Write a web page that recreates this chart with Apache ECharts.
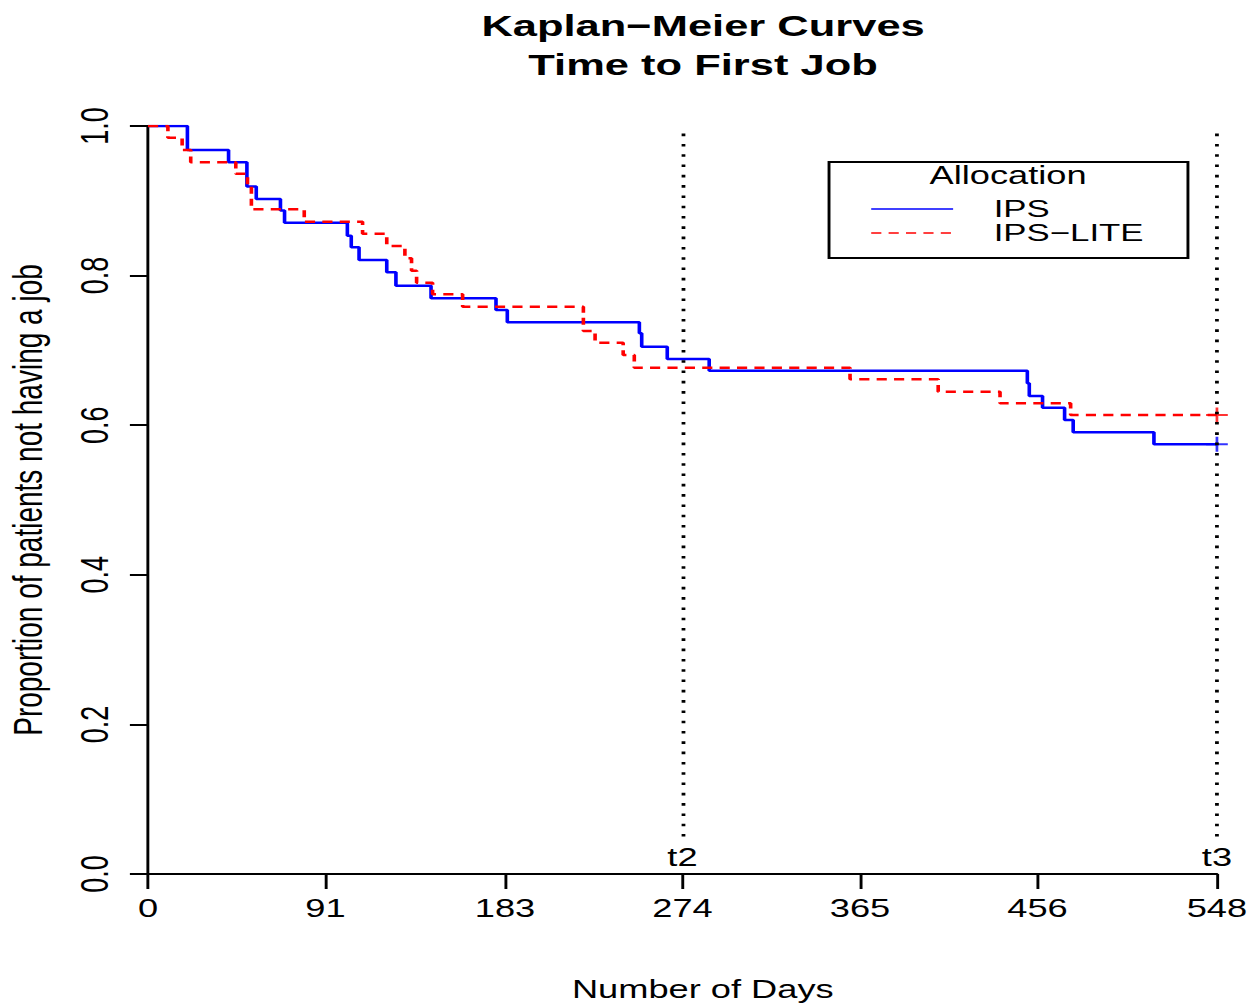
<!DOCTYPE html>
<html>
<head>
<meta charset="utf-8">
<script src="https://cdn.jsdelivr.net/npm/echarts@6/dist/echarts.min.js"></script>
<style>
  html, body { margin: 0; padding: 0; background: #fff; overflow: hidden; }
  /* the reference picture is stretched sideways, so the chart is too */
  #chart { width: 863px; height: 1006px; transform: scaleX(1.4496); transform-origin: 0 0; }
</style>
</head>
<body>
<div id="chart"></div>
<script>
const xTicks = [0, 91, 183, 274, 365, 456, 548]

// IPS (solid blue) step curve
const ipsDays = [0, 20.2, 41.3, 50.7, 55.5, 67.9, 70, 102.2, 104.2, 108.2, 122.4, 127.1, 145.1,
  178.4, 184.2, 251.9, 253.1, 266.2, 287.7, 450.8, 451.8, 458.6, 469.9, 474.3, 515.7, 548]
const ipsSurv = [1, 0.968, 0.9515, 0.919, 0.9024, 0.887, 0.8705, 0.8534, 0.8378, 0.8209, 0.8044, 0.7865, 0.7696,
  0.754, 0.7375, 0.7228, 0.705, 0.6885, 0.6729, 0.656, 0.639, 0.6234, 0.607, 0.5905, 0.5745, 0.5745]

// IPS-LITE (dashed red) step curve
const liteDays = [0, 10.2, 17.5, 21.9, 45, 51, 53, 80.1, 110, 122.4, 131.7, 135.1, 137.7, 145.9,
  161.3, 223.2, 229.2, 243.6, 249.3, 359.9, 405.1, 436.8, 473, 548]
const liteSurv = [1, 0.9844, 0.968, 0.9515, 0.936, 0.919, 0.8886, 0.872, 0.856, 0.8396, 0.8231, 0.8066, 0.7905, 0.775,
  0.7585, 0.726, 0.7103, 0.6939, 0.6769, 0.6613, 0.6448, 0.6293, 0.6136, 0.6136]

const refDays = [274, 548]
const refLabels = ['t2', 't3']

const pairs = (xs, ys) => xs.map((x, i) => [x, ys[i]])
const last = (xs, ys) => [[xs[xs.length - 1], ys[ys.length - 1]]]

const plus = 'path://M7,0 H9 V7 H16 V9 H9 V16 H7 V9 H0 V7 H7 Z'
const font = 'Liberation Sans'

const chart = echarts.init(document.getElementById('chart'), null, { renderer: 'svg' })
chart.setOption({
  backgroundColor: '#fff',
  animation: false,
  title: {
    text: 'Kaplan\u2212Meier Curves\nTime to First Job',
    left: 485,
    top: 6,
    padding: 0,
    textAlign: 'center',
    textStyle: { fontFamily: font, fontWeight: 'bold', fontSize: 30, lineHeight: 39, color: '#000' }
  },
  grid: { left: 102.1, right: 23.5, top: 126, bottom: 132, outerBoundsMode: 'none' },
  legend: {
    orient: 'vertical',
    left: 600.2,
    top: 197,
    padding: 0,
    itemGap: 0,
    itemWidth: 56.5,
    itemHeight: 14,
    data: ['IPS', 'IPS\u2212LITE'],
    itemStyle: { opacity: 0 },
    lineStyle: { width: 1.6 },
    textStyle: { fontFamily: font, fontSize: 24, lineHeight: 24, color: '#000', padding: [0, 0, 0, 23] }
  },
  graphic: [
    {
      type: 'rect',
      shape: { x: 571.9, y: 162, width: 247.6, height: 96 },
      style: { fill: 'none', stroke: '#000', lineWidth: 2 }
    },
    {
      type: 'text',
      x: 695.4,
      y: 176,
      style: { text: 'Allocation', font: '25px "Liberation Sans"', fill: '#000', textAlign: 'center', textVerticalAlign: 'middle' }
    }
  ],
  xAxis: {
    type: 'value',
    min: 0,
    max: 548,
    name: 'Number of Days',
    nameLocation: 'middle',
    nameGap: 103,
    nameTextStyle: { fontFamily: font, fontSize: 25, color: '#000', padding: [0, 0, 0, 28] },
    axisLine: { show: true, lineStyle: { color: '#000', width: 2 } },
    axisTick: { show: true, length: 15, customValues: xTicks, lineStyle: { color: '#000', width: 2 } },
    axisLabel: { customValues: xTicks, margin: 22, fontFamily: font, fontSize: 25, color: '#000' },
    splitLine: { show: false }
  },
  yAxis: {
    type: 'value',
    min: 0,
    max: 1,
    interval: 0.2,
    name: 'Proportion of patients not having a job',
    nameLocation: 'middle',
    nameGap: 69,
    nameTextStyle: { fontFamily: font, fontSize: 28, color: '#000' },
    axisLine: { show: true, lineStyle: { color: '#000', width: 2 } },
    axisTick: { show: true, length: 12.5, lineStyle: { color: '#000', width: 2 } },
    axisLabel: { rotate: 90, margin: 23, fontFamily: font, fontSize: 27, color: '#000', formatter: (v) => v.toFixed(1) },
    splitLine: { show: false }
  },
  series: [
    {
      name: 'IPS',
      type: 'line',
      step: 'end',
      symbol: 'none',
      data: pairs(ipsDays, ipsSurv),
      lineStyle: { color: '#0000ff', width: 2.5 },
      itemStyle: { color: '#0000ff' },
      markLine: {
        silent: true,
        symbol: ['none', 'none'],
        lineStyle: { color: '#000', width: 2.6, type: [2.6, 7.7] },
        label: { show: true, position: 'start', distance: 8, formatter: '{b}', fontFamily: font, fontSize: 25, color: '#000' },
        data: refDays.map((d, i) => [{ name: refLabels[i], coord: [d, 0.05] }, { coord: [d, 1] }])
      }
    },
    {
      name: 'IPS\u2212LITE',
      type: 'line',
      step: 'end',
      symbol: 'none',
      data: pairs(liteDays, liteSurv),
      lineStyle: { color: '#ff0000', width: 2.5, type: [7, 5] },
      itemStyle: { color: '#ff0000' }
    },
    {
      name: 'IPS censored',
      type: 'scatter',
      symbol: plus,
      symbolSize: 15,
      clip: false,
      data: last(ipsDays, ipsSurv),
      itemStyle: { color: '#0000ff' }
    },
    {
      name: 'IPS-LITE censored',
      type: 'scatter',
      symbol: plus,
      symbolSize: 15,
      clip: false,
      data: last(liteDays, liteSurv),
      itemStyle: { color: '#ff0000' }
    }
  ]
})
</script>
</body>
</html>
